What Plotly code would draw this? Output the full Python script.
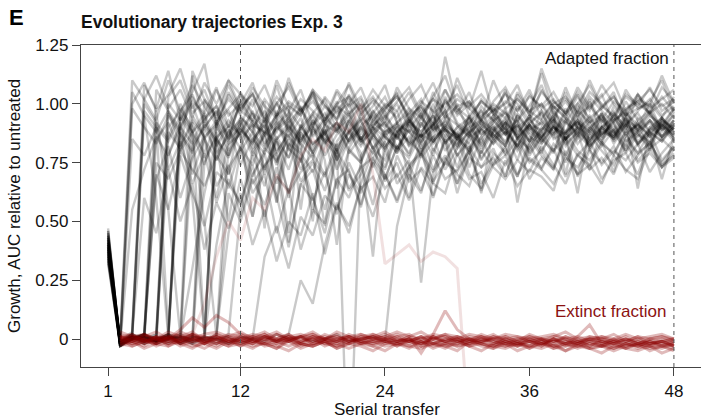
import plotly.graph_objects as go

# ---------------- data ----------------
transfers = list(range(1, 49))
x_ticks = [1, 12, 24, 36, 48]
y_ticks = [0, 0.25, 0.5, 0.75, 1.0, 1.25]
y_ticktext = ["0", "0.25", "0.50", "0.75", "1.00", "1.25"]

# adapted trajectories: values at transfers 1..48
adapted_lines = [
    [0.42, -0.02, 1.05, 0.95, 0.88, 0.97, 0.82, 0.93, 0.86, 0.60, 0.84, 0.91,
     1.02, 0.86, 0.92, 0.80, 0.89, 0.95, 0.83, 0.90, 0.97, 0.85, 0.92, 0.88,
     0.79, 0.93, 0.86, 1.00, 0.88, 0.82, 0.94, 0.87, 0.91, 0.83, 0.96, 0.89,
     0.85, 0.93, 0.88, 0.97, 0.84, 0.90, 0.95, 0.86, 0.92, 0.81, 0.94, 0.88],
    [0.38, 0.00, 1.10, 1.02, 0.93, 1.10, 0.97, 1.04, 0.92, 1.06, 0.95, 1.00,
     1.09, 0.94, 1.03, 0.97, 0.90, 1.05, 0.99, 0.93, 1.04, 0.96, 1.01, 0.92,
     1.07, 0.98, 0.94, 1.03, 1.12, 0.97, 0.91, 1.02, 0.96, 1.05, 0.93, 0.99,
     1.08, 0.95, 1.01, 0.94, 1.03, 0.97, 0.92, 1.06, 0.98, 1.01, 1.10, 0.96],
    [0.35, -0.03, 0.02, 0.97, 0.90, 0.84, 0.95, 0.88, 0.79, 0.92, 0.85, 0.90,
     0.83, 0.94, 0.78, 0.45, 0.91, 0.82, 0.89, 0.76, 0.88, 0.93, 0.81, 0.87,
     0.90, 0.84, 0.95, 0.80, 0.89, 0.86, 0.92, 0.79, 0.88, 0.94, 0.85, 0.81,
     0.90, 0.87, 0.93, 0.83, 0.89, 0.96, 0.84, 0.91, 0.87, 0.82, 0.93, 0.89],
    [0.45, -0.02, 0.01, 0.95, 0.60, 0.01, 0.90, 1.00, 0.85, 0.93, 0.80, 0.88,
     0.97, 0.83, 0.90, 0.86, 0.94, 0.79, 0.88, 0.92, 0.84, 0.96, 0.87, 0.81,
     0.91, 0.88, 0.83, 0.95, 0.89, 0.85, 0.92, 0.97, 0.86, 0.90, 0.82, 0.93,
     0.88, 0.99, 0.85, 0.90, 0.87, 0.94, 0.83, 0.91, 0.96, 0.88, 0.84, 0.92],
    [0.40, -0.01, 0.00, -0.02, 0.92, 0.85, 1.00, 0.88, 0.96, 0.82, 0.91, 0.87,
     0.52, 0.80, 0.89, 0.93, 0.85, 0.90, 0.78, 0.87, 0.92, 0.84, 0.88, 0.95,
     0.81, 0.89, 0.86, 0.91, 0.97, 0.83, 0.88, 0.92, 0.85, 0.79, 0.90, 0.94,
     0.86, 0.91, 0.83, 0.88, 0.95, 0.87, 0.92, 0.80, 0.89, 0.93, 0.86, 0.90],
    [0.33, -0.03, 0.01, 0.00, 0.75, 0.68, 0.80, 0.72, 0.65, 0.78, 0.70, 0.82,
     0.66, 0.74, 0.79, 0.62, 0.71, 0.76, 0.69, 0.81, 0.64, 0.73, 0.77, 0.70,
     0.58, 0.72, 0.79, 0.67, 0.75, 0.71, 0.80, 0.63, 0.74, 0.78, 0.69, 0.83,
     0.72, 0.66, 0.77, 0.73, 0.81, 0.68, 0.76, 0.79, 0.70, 0.84, 0.74, 0.78],
    [0.44, -0.02, 0.02, -0.01, 0.01, 1.00, 0.93, 1.05, 1.17, 0.90, 1.04, 0.95,
     0.88, 1.01, 0.58, 0.97, 1.06, 0.91, 0.99, 0.94, 1.02, 0.87, 0.96, 1.03,
     0.92, 0.98, 0.90, 1.05, 0.94, 0.99, 1.01, 0.93, 0.97, 0.89, 1.04, 0.95,
     1.13, 0.96, 0.92, 1.00, 0.94, 0.98, 1.05, 0.91, 0.97, 1.02, 0.95, 0.99],
    [0.36, -0.01, 0.00, 0.02, -0.02, 0.88, 0.81, 0.92, 0.77, 0.86, 0.90, 0.74,
     0.85, 0.91, 0.79, 0.88, 0.83, 0.92, 0.76, 0.40, 0.81, 0.90, 0.85, 0.73,
     0.88, 0.92, 0.80, 0.86, 0.89, 0.78, 0.84, 0.91, 0.87, 0.82, 0.93, 0.79,
     0.86, 0.90, 0.84, 0.95, 0.81, 0.88, 0.86, 0.92, 0.83, 0.89, 0.94, 0.85],
    [0.41, -0.03, 0.01, 0.00, 0.01, -0.01, 0.98, 0.90, 0.02, 0.85, 0.93, 0.87,
     0.96, 0.82, 0.90, 0.94, 0.86, 0.79, 0.91, 0.88, 0.95, 0.83, 0.89, 0.92,
     0.85, 0.97, 0.81, 0.88, 0.93, 0.86, 0.90, 0.84, 0.95, 0.89, 0.82, 0.91,
     0.97, 0.85, 0.88, 0.93, 0.80, 0.90, 0.86, 0.94, 0.89, 0.83, 0.91, 0.87],
    [0.39, -0.02, 0.00, 0.01, -0.01, 0.02, 0.80, 1.12, 0.90, 0.97, 0.85, 1.01,
     0.93, 0.88, 1.08, 0.91, 0.84, 0.96, 1.02, 0.89, 0.93, 0.99, 0.86, 0.94,
     1.00, 0.90, 0.96, 0.85, 1.03, 0.92, 0.88, 0.97, 0.93, 1.06, 0.87, 0.95,
     0.91, 0.99, 0.94, 0.86, 1.01, 0.92, 0.97, 0.89, 1.04, 0.95, 0.90, 0.98],
    [0.43, -0.01, 0.02, -0.02, 0.00, 0.01, -0.01, 0.95, 0.86, 0.91, 0.78, 0.89,
     0.84, 0.93, 0.80, 0.87, 0.75, 0.90, 0.85, 0.82, 0.88, 0.79, 0.35, 0.86,
     0.81, 0.89, 0.77, 0.84, 0.91, 0.87, 0.80, 0.93, 0.85, 0.88, 0.82, 0.90,
     0.86, 0.79, 0.92, 0.88, 0.84, 0.91, 0.87, 0.95, 0.82, 0.90, 0.86, 0.93],
    [0.34, -0.02, -0.01, 0.01, 0.00, -0.02, 0.01, 0.00, 0.90, 0.97, 0.84, 1.03,
     0.92, 0.87, 0.95, 0.99, 0.55, 0.91, 0.96, 0.88, 1.00, 0.85, 0.93, 0.90,
     0.97, 0.82, 0.94, 0.89, 1.02, 0.91, 0.86, 0.95, 0.99, 0.88, 0.93, 0.84,
     0.97, 0.92, 1.05, 0.89, 0.94, 0.87, 0.99, 0.93, 0.90, 1.00, 0.88, 0.96],
    [0.46, -0.03, 0.00, 0.02, -0.01, 0.00, 0.01, -0.02, 0.01, 0.88, 0.70, 0.93,
     0.80, 0.86, 0.74, 0.91, 0.83, 0.77, 0.89, 0.72, 0.85, 0.90, 0.81, 0.76,
     0.88, 0.84, 0.79, 0.92, 0.86, 0.73, 0.87, 0.83, 0.90, 0.78, 0.85, 0.91,
     0.80, 0.88, 0.75, 0.86, 0.92, 0.82, 0.89, 0.79, 0.87, 0.84, 0.91, 0.85],
    [0.37, -0.01, 0.03, 1.08, 0.98, 1.14, 0.93, 1.01, 0.96, 1.07, 0.90, 0.99,
     1.04, 0.94, 0.88, 1.00, 0.95, 1.06, 0.91, 0.97, 1.03, 0.93, 0.99, 1.08,
     0.92, 0.96, 1.02, 0.89, 1.20, 0.98, 0.94, 1.01, 0.96, 0.91, 1.05, 0.97,
     1.00, 0.93, 1.07, 0.95, 0.99, 1.04, 0.92, 0.98, 1.01, 0.96, 1.03, 0.97],
    [0.32, -0.02, 0.01, 0.02, 0.70, 0.55, 0.78, 0.62, 0.48, 0.71, 0.66, 0.58,
     0.74, 0.52, 0.69, 0.63, 0.77, 0.60, 0.45, 0.68, 0.72, 0.57, 0.75, 0.64,
     0.70, 0.59, 0.73, 0.66, 0.62, 0.79, 0.68, 0.71, 0.60, 0.76, 0.65, 0.72,
     0.69, 0.63, 0.80, 0.70, 0.74, 0.66, 0.78, 0.72, 0.68, 0.81, 0.73, 0.77],
    [0.40, -0.02, 0.00, 0.01, -0.01, 0.96, 0.88, 0.60, 0.02, 0.92, 0.97, 0.85,
     0.91, 0.88, 0.95, 0.82, 0.90, 0.96, 0.87, 0.92, 0.84, 0.89, 0.97, 0.91,
     0.86, 0.93, 0.88, 0.95, 0.83, 0.90, 0.94, 0.87, 0.92, 0.98, 0.85, 0.91,
     0.89, 0.94, 0.87, 0.99, 0.90, 0.86, 0.93, 0.96, 0.88, 0.92, 0.85, 0.90],
    [0.38, -0.01, 0.01, -0.02, 0.00, 0.02, -0.01, 0.01, 0.00, -0.02, 0.02, 0.55,
     0.78, 0.65, 0.84, 0.72, 0.88, 0.80, 0.91, 0.76, 0.85, 0.93, 0.81, 0.89,
     0.86, 0.79, 0.92, 0.84, 0.90, 0.87, 0.95, 0.82, 0.89, 0.93, 0.86, 0.91,
     0.84, 0.97, 0.88, 0.92, 0.85, 0.90, 0.94, 0.87, 0.91, 0.96, 0.89, 0.93],
    [0.42, -0.03, 0.00, 0.01, -0.01, 0.00, 0.02, -0.01, 0.01, 0.00, -0.02, 0.01,
     0.00, 0.35, 0.48, 0.30, 0.52, 0.44, 0.61, 0.55, 0.70, 0.62, 0.76, 0.68,
     0.82, 0.74, 0.79, 0.86, 0.72, 0.81, 0.88, 0.77, 0.84, 0.90, 0.80, 0.86,
     0.83, 0.91, 0.78, 0.87, 0.93, 0.85, 0.89, 0.82, 0.94, 0.88, 0.84, 0.90],
    [0.35, -0.02, 0.01, 0.00, -0.01, 0.01, 0.00, 0.02, -0.01, 0.00, 0.01, -0.02,
     0.00, 0.01, -0.01, 0.02, 0.25, 0.15, 0.40, 0.58, 0.45, 0.66, 0.80, 0.72,
     0.87, 0.78, 0.92, 0.83, 0.89, 0.85, 0.94, 0.81, 0.88, 0.92, 0.86, 0.95,
     0.83, 0.90, 0.87, 0.93, 0.89, 0.84, 0.96, 0.88, 0.91, 0.86, 0.93, 0.90],
    [0.41, -0.01, 0.00, 0.02, 0.85, 0.92, 0.80, 0.88, 0.74, 0.90, 0.83, 0.87,
     0.69, 0.81, 0.76, 0.85, 0.72, 0.79, 0.70, 0.83, -0.70, 0.78, 0.86, 0.80,
     0.88, 0.94, 0.86, 0.91, 0.97, 0.85, 0.90, 0.93, 0.87, 0.82, 0.95, 0.89,
     0.92, 0.86, 0.98, 0.90, 0.85, 0.93, 0.88, 0.96, 0.91, 0.87, 0.94, 0.89],
    [0.39, -0.02, 0.01, 0.00, -0.01, 0.02, 0.00, -0.01, 0.01, 0.00, -0.02, 0.01,
     0.00, -0.01, 0.02, 0.00, 0.01, -0.01, 0.00, 0.02, -0.01, 0.00, 0.01, -0.01,
     0.48, 0.70, 0.62, 0.81, 0.74, 0.86, 0.79, 0.90, 0.83, 0.88, 0.76, 0.91,
     0.85, 0.80, 0.93, 0.87, 0.82, 0.90, 0.86, 0.94, 0.84, 0.89, 0.92, 0.87],
    [0.44, -0.01, 0.00, 0.01, -0.02, 0.00, 0.02, 1.14, 1.02, 0.94, 1.08, 0.97,
     1.05, 0.92, 1.10, 0.99, 0.95, 1.06, 1.00, 0.93, 1.09, 0.98, 1.03, 0.95,
     1.01, 1.07, 0.96, 1.02, 0.94, 1.11, 0.99, 1.04, 0.97, 1.00, 1.08, 0.95,
     1.15, 1.01, 0.96, 1.05, 0.98, 1.03, 1.09, 0.97, 1.02, 0.99, 1.12, 1.00],
    [0.36, -0.02, 0.85, 0.78, 0.90, 0.72, 0.84, 0.66, 0.79, 0.58, 0.73, 0.81,
     0.62, 0.70, 0.45, 0.64, 0.38, 0.55, 0.49, 0.68, 0.60, 0.74, 0.57, 0.80,
     0.69, 0.76, 0.24, 0.71, 0.78, 0.66, 0.82, 0.73, 0.77, 0.69, 0.84, 0.75,
     0.80, 0.72, 0.86, 0.78, 0.74, 0.83, 0.79, 0.88, 0.76, 0.81, 0.85, 0.80],
    [0.40, -0.03, 0.01, -0.01, 0.00, 0.02, -0.02, 0.01, 0.00, 0.93, 0.87, 1.00,
     0.91, 0.47, 0.96, 0.89, 0.99, 0.86, 0.93, 1.01, 0.88, 0.94, 0.90, 0.97,
     0.85, 0.92, 0.98, 0.89, 0.95, 0.91, 0.87, 0.99, 0.93, 0.96, 0.88, 0.94,
     1.00, 0.90, 0.85, 0.97, 0.92, 0.95, 0.89, 1.01, 0.93, 0.97, 0.90, 0.95],
    [0.45, -0.02, 0.00, 0.01, 0.97, 0.55, 0.01, 0.82, 0.90, 0.79, 0.86, 0.92,
     0.81, 0.88, 0.84, 0.77, 0.90, 0.83, 0.87, 0.80, 0.93, 0.85, 0.79, 0.88,
     0.92, 0.82, 0.87, 0.84, 0.91, 0.78, 0.86, 0.89, 0.83, 0.92, 0.87, 0.80,
     0.88, 0.93, 0.85, 0.90, 0.82, 0.87, 0.91, 0.84, 0.88, 0.93, 0.86, 0.91],
    [0.33, -0.01, 0.00, 0.02, -0.01, 0.00, 0.01, -0.02, 0.00, 0.01, 0.62, 0.50,
     0.68, 0.57, 0.73, 0.41, 0.66, 0.59, 0.71, 0.53, 0.75, 0.64, 0.69, 0.58,
     0.78, 0.67, 0.72, 0.61, 0.77, 0.70, 0.65, 0.80, 0.73, 0.68, 0.76, 0.71,
     0.82, 0.74, 0.66, 0.79, 0.72, 0.77, 0.70, 0.83, 0.75, 0.79, 0.73, 0.81],
    [0.38, -0.02, 0.01, -0.01, 0.02, 1.03, 1.10, 0.96, 1.01, 0.93, 0.98, 1.04,
     0.95, 0.90, 1.00, 0.94, 1.02, 0.97, 0.92, 1.05, 0.96, 1.00, 0.93, 0.98,
     1.03, 0.95, 0.99, 0.91, 1.06, 0.97, 1.01, 0.94, 1.00, 0.96, 0.92, 1.04,
     0.98, 1.02, 0.95, 1.07, 0.99, 0.93, 1.01, 0.97, 1.04, 0.96, 1.00, 0.94],
    [0.47, -0.03, 0.98, 0.90, 0.83, 0.95, 0.87, 0.79, 0.91, 0.84, 0.50, 0.80,
     0.88, 0.73, 0.85, 0.90, 0.77, 0.55, 0.83, 0.89, 0.81, 0.75, 0.87, 0.92,
     0.80, 0.86, 0.78, 0.91, 0.84, 0.88, 0.73, 0.86, 0.90, 0.82, 0.95, 0.87,
     0.79, 0.91, 0.85, 0.89, 0.83, 0.96, 0.88, 0.80, 0.92, 0.86, 0.90, 0.84],
    [0.37, -0.01, 0.02, 0.00, -0.01, 0.01, 0.00, -0.02, 0.75, 0.86, 0.64, 0.82,
     0.93, 0.70, 0.85, 0.60, 0.88, 0.79, 0.48, 0.84, 0.91, 0.76, 0.87, 0.81,
     0.90, 0.68, 0.85, 0.92, 0.80, 0.87, 0.83, 0.62, 0.89, 0.84, 0.91, 0.78,
     0.86, 0.93, 0.82, 0.88, 0.72, 0.90, 0.85, 0.94, 0.83, 0.88, 0.91, 0.86],
    [0.41, -0.02, 0.02, 1.02, 1.12, 0.98, 1.06, 0.94, 1.09, 1.00, 1.10, 1.04,
     0.99, 1.08, 0.95, 1.01, 0.97, 1.05, 0.93, 1.00, 1.03, 0.97, 1.06, 0.99,
     0.94, 1.02, 1.08, 0.96, 1.00, 1.04, 0.98, 0.93, 1.01, 1.07, 0.97, 1.03,
     0.99, 1.05, 0.96, 1.00, 1.08, 0.98, 1.03, 0.95, 1.01, 1.06, 0.99, 1.02],
    [0.43, -0.02, 0.55, 0.72, 0.86, 0.78, 0.92, 0.70, 0.85, 0.76, 0.89, 0.81,
     0.74, 0.88, 0.66, 0.83, 0.79, 0.71, 0.86, 0.64, 0.80, 0.75, 0.90, 0.68,
     0.82, 0.77, 0.87, 0.72, 0.84, 0.62, 0.79, 0.86, 0.74, 0.81, 0.69, 0.85,
     0.78, 0.73, 0.88, 0.80, 0.76, 0.84, 0.71, 0.87, 0.79, 0.83, 0.75, 0.82],
    [0.39, -0.01, 0.01, 1.00, 0.92, 0.03, 0.96, 1.08, 0.99, 0.91, 1.05, 0.97,
     0.93, 1.02, 0.95, 1.09, 0.98, 0.90, 1.03, 0.96, 1.00, 1.07, 0.94, 0.99,
     1.04, 0.92, 1.01, 0.97, 1.06, 0.95, 1.00, 0.93, 1.10, 0.98, 1.02, 0.96,
     1.05, 0.99, 0.94, 1.03, 0.97, 1.08, 1.00, 0.95, 1.04, 0.98, 1.02, 1.06],
    [0.36, -0.02, 0.00, 0.01, -0.01, 0.00, 0.94, 0.86, 0.50, 0.01, 0.82, 0.90,
     0.78, 0.87, 0.93, 0.81, 0.76, 0.89, 0.84, 0.92, 0.79, 0.86, 0.73, 0.88,
     0.91, 0.83, 0.87, 0.78, 0.94, 0.85, 0.80, 0.89, 0.86, 0.92, 0.81, 0.88,
     0.84, 0.90, 0.87, 0.93, 0.82, 0.89, 0.85, 0.91, 0.88, 0.80, 0.92, 0.86],
    [0.42, -0.03, 0.00, 0.02, 0.68, 0.82, 0.60, 0.77, 0.86, 0.65, 0.74, 0.52,
     0.70, 0.79, 0.58, 0.83, 0.67, 0.75, 0.63, 0.80, 0.71, 0.56, 0.77, 0.84,
     0.66, 0.73, 0.81, 0.60, 0.76, 0.85, 0.70, 0.64, 0.79, 0.74, 0.83, 0.68,
     0.77, 0.72, 0.86, 0.69, 0.80, 0.75, 0.82, 0.71, 0.78, 0.84, 0.73, 0.79],
    [0.38, -0.01, 0.01, -0.01, 0.00, 0.02, 0.00, 0.30, 0.62, 0.85, 0.78, 0.94,
     0.88, 0.81, 0.97, 0.90, 0.84, 0.93, 0.87, 0.99, 0.83, 0.91, 0.95, 0.86,
     0.92, 0.88, 0.96, 0.84, 0.90, 1.00, 0.87, 0.93, 0.89, 0.97, 0.85, 0.92,
     0.96, 0.88, 0.94, 0.90, 1.02, 0.86, 0.93, 0.97, 0.89, 0.95, 0.91, 0.98],
    [0.46, -0.02, 1.00, 1.09, 0.97, 1.04, 1.15, 0.98, 1.06, 0.93, 1.02, 0.96,
     1.07, 0.99, 0.94, 1.11, 0.97, 1.03, 0.91, 1.00, 1.08, 0.95, 1.02, 0.97,
     1.05, 0.93, 1.00, 1.09, 0.96, 1.02, 0.98, 1.14, 0.95, 1.01, 0.97, 1.06,
     0.94, 1.00, 1.03, 0.97, 1.10, 0.99, 0.95, 1.04, 1.00, 0.96, 1.07, 1.01],
    [0.40, -0.02, 0.00, 0.01, -0.02, 0.00, 0.01, 0.00, -0.01, 0.02, 0.45, 0.68,
     0.52, 0.74, 0.61, 0.39, 0.66, 0.72, 0.55, 0.78, 0.63, 0.70, 0.82, 0.67,
     0.75, 0.60, 0.79, 0.71, 0.85, 0.66, 0.77, 0.73, 0.81, 0.69, 0.86, 0.76,
     0.72, 0.83, 0.78, 0.70, 0.87, 0.80, 0.74, 0.85, 0.79, 0.88, 0.76, 0.82],
    [0.35, -0.03, 0.01, 0.00, 0.02, 0.78, 0.90, 0.83, 0.95, 0.76, 0.88, 0.93,
     0.85, 0.79, 0.91, 0.96, 0.82, 0.50, 0.93, 0.80, 0.89, 0.84, 0.97, 0.86,
     0.81, 0.92, 0.88, 0.95, 0.83, 0.90, 0.86, 0.79, 0.93, 0.87, 0.91, 0.84,
     0.89, 0.95, 0.85, 0.92, 0.88, 0.83, 0.96, 0.90, 0.86, 0.93, 0.89, 0.91],
    [0.44, -0.01, 0.00, 0.02, -0.01, 0.01, -0.02, 0.00, 1.02, 0.95, 1.10, 0.98,
     1.04, 0.93, 1.00, 1.07, 0.96, 1.01, 0.94, 1.06, 0.99, 1.03, 0.92, 1.00,
     0.97, 1.05, 0.94, 1.02, 0.98, 1.08, 0.95, 1.01, 0.97, 1.04, 1.00, 0.93,
     1.06, 0.98, 1.02, 0.96, 1.05, 1.00, 0.94, 1.03, 0.99, 1.07, 0.97, 1.01],
    [0.37, -0.02, 0.02, 0.60, 0.45, 0.72, 0.50, 0.66, 0.38, 0.58, 0.47, 0.62,
     0.40, 0.55, 0.33, 0.50, 0.44, 0.62, 0.36, 0.57, 0.48, 0.65, 0.52, 0.70,
     0.59, 0.74, 0.63, 0.78, 0.68, 0.72, 0.80, 0.66, 0.75, 0.82, 0.70, 0.77,
     0.73, 0.81, 0.69, 0.78, 0.84, 0.74, 0.80, 0.76, 0.83, 0.71, 0.79, 0.85],
    [0.41, -0.01, 0.00, 0.01, 1.06, 0.97, 0.89, 1.03, 0.94, 0.99, 0.90, 1.05,
     0.96, 0.92, 1.01, 0.88, 0.97, 1.04, 0.93, 0.99, 0.95, 1.02, 0.90, 0.98,
     1.03, 0.94, 0.99, 0.92, 1.01, 0.96, 1.05, 0.91, 0.98, 0.94, 1.02, 0.97,
     0.93, 1.01, 0.96, 1.04, 0.92, 0.99, 1.03, 0.95, 0.98, 1.00, 0.94, 1.03],
    [0.39, -0.02, 0.01, 0.00, -0.01, 0.01, 0.88, 0.80, 0.92, 0.85, 0.77, 0.89,
     0.83, 0.91, 0.75, 0.86, 0.80, 0.93, 0.84, 0.78, 0.88, 0.82, 0.90, 0.86,
     0.79, 0.91, 0.84, 0.66, 0.87, 0.81, 0.89, 0.76, 0.85, 0.92, 0.58, 0.83,
     0.88, 0.80, 0.86, 0.62, 0.90, 0.84, 0.78, 0.89, 0.83, 0.87, 0.68, 0.86],
    [0.43, -0.03, 0.00, 0.02, 0.00, 0.90, 0.97, 0.88, 0.93, 0.99, 0.86, 0.94,
     0.90, 0.97, 0.85, 0.92, 0.98, 0.87, 0.94, 0.89, 0.96, 0.84, 0.91, 0.95,
     0.88, 0.93, 0.86, 0.97, 0.90, 0.82, 0.95, 0.89, 0.93, 0.87, 0.99, 0.91,
     0.86, 0.95, 0.70, 0.92, 0.88, 0.96, 0.85, 0.93, 0.64, 0.90, 0.94, 0.88],
    [0.34, -0.01, 0.01, -0.01, 0.00, 0.01, -0.02, 0.01, 0.00, 0.40, 0.68, 0.57,
     0.80, 0.72, 0.86, 0.77, 0.91, 0.83, 0.88, 0.79, 0.93, 0.85, 0.90, 0.82,
     0.87, 0.94, 0.84, 0.89, 0.92, 0.86, 0.81, 0.90, 0.95, 0.87, 0.91, 0.84,
     0.93, 0.88, 0.96, 0.85, 0.90, 0.94, 0.87, 0.92, 0.89, 0.97, 0.86, 0.93],
]

# extinct trajectories: values from transfer 2 onwards
extinct_start = 2
extinct_lines = [
    [-0.01, 0.01, 0.00, -0.02, 0.01, 0.02, -0.01, 0.00, 0.01, -0.02,
     0.00, 0.01, -0.01, 0.02, 0.00, -0.01, 0.01, -0.02, 0.00, 0.01,
     -0.01, 0.00, 0.02, -0.01, 0.00, -0.02, 0.01, -0.01, 0.00, -0.02,
     0.01, -0.01, -0.02, 0.00, -0.01, -0.03, 0.00, -0.02, -0.01, -0.03,
     0.00, -0.02, -0.01, -0.03, -0.01, -0.02, -0.03],
    [0.02, -0.01, 0.01, 0.03, 0.00, -0.01, 0.02, 0.01, -0.02, 0.01,
     0.03, 0.00, 0.02, -0.01, 0.01, 0.02, 0.00, 0.01, -0.01, 0.02,
     0.00, 0.01, 0.03, 0.00, -0.01, 0.01, 0.00, 0.02, -0.01, 0.00,
     0.01, -0.02, 0.00, 0.01, -0.01, 0.00, -0.02, 0.01, -0.01, 0.00,
     -0.02, 0.00, -0.01, 0.01, -0.02, -0.01, 0.00],
    [-0.03, -0.01, -0.04, -0.02, -0.03, 0.00, -0.02, -0.04, -0.01, -0.03,
     -0.02, -0.04, -0.01, -0.03, -0.05, -0.02, -0.03, -0.01, -0.04, -0.02,
     -0.03, -0.05, -0.02, -0.01, -0.03, -0.04, -0.02, -0.03, -0.05, -0.01,
     -0.03, -0.04, -0.02, -0.05, -0.03, -0.04, -0.02, -0.05, -0.03, -0.04,
     -0.06, -0.03, -0.04, -0.05, -0.03, -0.06, -0.04],
    [0.00, 0.02, -0.01, 0.01, 0.00, 0.04, 0.09, 0.05, 0.10, 0.07,
     0.02, -0.01, 0.01, 0.00, 0.02, -0.02, 0.01, 0.00, -0.01, 0.01,
     -0.02, 0.00, 0.01, -0.01, 0.00, -0.03, 0.01, -0.02, -0.01, 0.00,
     -0.02, 0.01, -0.01, -0.03, 0.00, -0.02, -0.01, 0.00, -0.03, -0.01,
     -0.02, 0.00, -0.03, -0.01, -0.02, 0.00, -0.02],
    [0.01, -0.02, 0.00, -0.01, 0.02, -0.02, 0.00, 0.01, -0.01, -0.03,
     0.00, -0.02, 0.01, -0.01, 0.00, -0.03, -0.01, 0.00, -0.02, 0.01,
     -0.01, -0.02, 0.00, -0.01, 0.01, -0.06, 0.02, 0.12, 0.04, 0.00,
     -0.01, -0.03, 0.00, -0.02, -0.01, 0.00, -0.03, -0.01, -0.02, 0.00,
     -0.01, -0.03, -0.02, 0.00, -0.02, -0.01, -0.03],
    [-0.02, 0.00, -0.01, 0.01, -0.03, -0.01, 0.00, -0.02, 0.01, -0.01,
     -0.03, 0.00, -0.02, -0.01, 0.01, -0.02, 0.00, -0.03, -0.01, 0.00,
     -0.02, -0.01, 0.00, -0.03, -0.01, -0.02, 0.00, -0.01, -0.03, -0.02,
     0.00, -0.01, -0.03, -0.02, -0.01, -0.03, 0.00, -0.02, 0.01, 0.06,
     -0.02, -0.04, -0.02, -0.03, -0.01, -0.03, -0.04],
    [-0.01, 0.01, 0.00, -0.02, 0.01, 0.00, 0.02, 0.15, 0.35, 0.50,
     0.42, 0.60, 0.55, 0.70, 0.62, 0.78, 0.85, 0.80, 0.92, 0.88,
     1.00, 0.70, 0.32, 0.36, 0.40, 0.33, 0.37, 0.35, 0.30, -0.40],
    [0.01, 0.00, 0.02, -0.01, 0.00, 0.01, 0.03, -0.01, 0.00, 0.02,
     0.01, -0.01, 0.00, 0.02, -0.01, 0.01, 0.03, 0.00, 0.01, -0.01,
     0.02, 0.00, -0.01, 0.01, 0.02, -0.01, 0.00, 0.01, -0.02, 0.01,
     0.00, 0.02, -0.01, 0.00, 0.01, -0.01, 0.01, 0.00, -0.02, 0.01,
     0.00, -0.01, 0.01, -0.02, 0.00, 0.01, -0.01],
    [-0.02, -0.03, -0.01, -0.02, 0.00, -0.03, -0.01, -0.02, -0.04, -0.01,
     -0.02, 0.00, -0.03, -0.02, -0.01, -0.04, -0.02, -0.01, -0.03, 0.00,
     -0.02, -0.03, -0.01, -0.02, -0.04, -0.01, -0.03, -0.02, 0.00, -0.03,
     -0.02, -0.04, -0.01, -0.03, -0.02, -0.01, -0.04, -0.02, -0.03, -0.01,
     -0.03, -0.02, -0.04, -0.02, -0.03, -0.01, -0.03],
    [0.00, -0.01, 0.01, 0.00, -0.02, 0.01, -0.01, 0.00, 0.02, -0.01,
     0.00, -0.02, 0.01, 0.00, -0.01, 0.01, -0.02, 0.00, 0.01, -0.01,
     0.00, 0.01, -0.02, 0.00, -0.01, 0.01, -0.02, -0.01, 0.00, -0.02,
     -0.01, 0.00, -0.02, -0.01, -0.03, 0.00, -0.01, -0.02, 0.00, -0.03,
     -0.01, -0.02, 0.00, -0.01, -0.03, -0.02, -0.01],
    [0.01, 0.02, -0.01, 0.00, 0.01, -0.01, 0.02, 0.00, 0.01, -0.01,
     0.02, 0.01, 0.00, -0.01, 0.01, 0.00, 0.02, -0.01, 0.00, 0.01,
     -0.01, 0.02, 0.00, 0.01, -0.02, 0.00, 0.01, -0.01, 0.01, 0.00,
     -0.01, 0.01, 0.00, -0.02, 0.01, 0.00, -0.01, 0.01, -0.01, 0.00,
     0.01, -0.01, 0.00, -0.02, 0.00, -0.01, 0.00],
    [-0.02, -0.01, -0.03, 0.00, -0.02, -0.01, -0.03, -0.02, 0.00, -0.02,
     -0.01, -0.03, -0.02, -0.04, -0.01, -0.02, -0.03, -0.01, -0.02, -0.04,
     -0.02, -0.01, -0.03, -0.02, -0.03, -0.01, -0.04, -0.02, -0.03, -0.01,
     -0.02, -0.03, -0.04, -0.02, -0.03, -0.02, -0.04, -0.03, -0.02, -0.04,
     -0.03, -0.04, -0.02, -0.03, -0.04, -0.03, -0.02],
    [0.00, 0.01, -0.02, 0.01, -0.01, 0.00, 0.02, -0.01, 0.00, 0.01,
     -0.01, 0.00, 0.02, -0.02, 0.00, 0.01, -0.01, 0.02, 0.00, -0.02,
     0.01, -0.01, 0.00, 0.02, -0.01, 0.01, -0.02, 0.00, 0.01, -0.01,
     0.00, -0.02, 0.01, -0.01, 0.00, -0.02, 0.00, -0.01, -0.02, 0.00,
     -0.01, -0.02, 0.00, -0.02, -0.01, -0.03, -0.01],
    [-0.01, -0.02, 0.00, -0.03, -0.01, -0.02, 0.00, -0.01, -0.03, 0.00,
     -0.01, -0.02, 0.00, -0.01, -0.03, -0.01, 0.00, -0.02, -0.03, -0.01,
     0.00, -0.02, -0.01, -0.03, 0.00, -0.02, -0.01, -0.03, -0.02, 0.00,
     -0.02, -0.03, -0.01, -0.02, -0.04, -0.01, -0.03, -0.02, -0.04, -0.02,
     -0.03, -0.01, -0.04, -0.02, -0.03, -0.04, -0.02],
    [0.03, 0.01, 0.02, 0.00, 0.03, 0.01, 0.00, 0.02, 0.03, 0.01,
     0.00, 0.02, 0.01, 0.03, 0.00, 0.01, 0.02, 0.00, 0.03, 0.01,
     0.02, 0.00, 0.01, 0.03, 0.01, 0.00, 0.02, 0.01, 0.00, 0.02,
     0.01, 0.00, 0.02, 0.01, 0.00, 0.01, 0.02, 0.00, 0.01, -0.01,
     0.01, 0.00, 0.02, 0.00, 0.01, 0.02, 0.00],
    [-0.01, 0.00, -0.02, 0.01, 0.00, -0.01, 0.01, -0.02, 0.00, -0.01,
     0.01, -0.01, -0.02, 0.00, -0.01, 0.01, -0.02, 0.00, -0.01, -0.02,
     0.00, 0.01, -0.01, -0.02, 0.00, -0.01, -0.02, 0.00, -0.01, -0.03,
     -0.01, 0.00, -0.02, -0.03, -0.01, -0.02, 0.00, -0.03, -0.01, -0.02,
     -0.03, -0.01, -0.02, -0.04, -0.02, -0.01, -0.03],
    [0.00, -0.03, -0.01, -0.02, 0.01, -0.02, -0.04, -0.01, -0.02, 0.00,
     -0.03, -0.01, -0.02, -0.04, 0.00, -0.02, -0.03, -0.01, -0.04, -0.02,
     -0.01, -0.03, -0.05, -0.02, -0.01, -0.03, -0.02, -0.04, -0.01, -0.03,
     -0.05, -0.02, -0.03, -0.01, -0.04, -0.02, -0.03, -0.05, -0.02, -0.04,
     -0.03, -0.05, -0.03, -0.02, -0.05, -0.03, -0.05],
    [0.01, -0.01, 0.02, 0.00, -0.01, 0.03, 0.01, -0.02, 0.02, 0.00,
     -0.01, 0.01, 0.03, 0.00, 0.02, -0.01, 0.01, 0.00, 0.02, -0.01,
     0.01, 0.02, 0.00, -0.01, 0.01, 0.03, 0.00, 0.02, 0.01, -0.01,
     0.02, 0.00, 0.01, -0.01, 0.02, 0.00, 0.01, 0.03, 0.00, 0.01,
     0.00, 0.02, -0.01, 0.01, 0.00, 0.01, 0.00],
]

# ---------------- figure ----------------
W, H = 701, 419
ML, MR, MT, MB = 81, 0, 45, 52
PW, PH = W - ML - MR, H - MT - MB


def px_x(px):
    return (px - ML) / PW


def px_y(py):
    return (H - MB - py) / PH


FONT = "Liberation Sans, Arial, Helvetica, sans-serif"
GREY = "rgba(0,0,0,0.21)"
RED = "rgba(139,0,0,0.27)"
RED_FAINT = "rgba(139,0,0,0.12)"
RED_TEXT = "#8b1111"

fig = go.Figure()
for vals in adapted_lines:
    fig.add_trace(go.Scatter(
        x=transfers[:len(vals)], y=vals, mode="lines",
        line=dict(color=GREY, width=2.4), hoverinfo="skip", showlegend=False))
for vals in extinct_lines:
    xs = transfers[extinct_start - 1: extinct_start - 1 + len(vals)]
    col = RED_FAINT if max(vals) > 0.5 else RED
    fig.add_trace(go.Scatter(
        x=xs, y=vals, mode="lines",
        line=dict(color=col, width=3), hoverinfo="skip", showlegend=False))

for xv in (12, 48):
    fig.add_shape(type="line", xref="x", yref="paper", x0=xv, x1=xv, y0=0, y1=1,
                  line=dict(color="#555555", width=1, dash="4px,4px"), layer="above")

fig.update_layout(
    width=W, height=H,
    margin=dict(l=ML, r=MR, t=MT, b=MB, pad=0),
    plot_bgcolor="white", paper_bgcolor="white",
    font=dict(family=FONT, size=17, color="#111111"),
    xaxis=dict(range=[-1.25, 50.25], tickvals=x_ticks, ticks="outside", ticklen=8,
               tickwidth=1.2, tickcolor="#444444", showline=True, linecolor="#444444",
               linewidth=1.3, mirror=True, showgrid=False, zeroline=False,
               tickfont=dict(size=17, color="#111111")),
    yaxis=dict(range=[-0.119, 1.25], tickvals=y_ticks, ticktext=y_ticktext,
               ticks="outside", ticklen=8, tickwidth=1.2, tickcolor="#444444",
               showline=True, linecolor="#444444", linewidth=1.3, showgrid=False,
               zeroline=False, tickfont=dict(size=17, color="#111111")),
    annotations=[
        dict(text="<b>E</b>", x=px_x(7), y=px_y(17), xref="paper", yref="paper",
             xanchor="left", yanchor="middle", showarrow=False,
             font=dict(size=22, color="#000000")),
        dict(text="<b>Evolutionary trajectories Exp. 3</b>", x=px_x(79), y=px_y(22),
             xref="paper", yref="paper", xanchor="left", yanchor="middle",
             showarrow=False, font=dict(size=17.5, color="#111111")),
        dict(text="Adapted fraction", x=px_x(671), y=px_y(59), xref="paper", yref="paper",
             xanchor="right", yanchor="middle", showarrow=False,
             font=dict(size=17, color="#111111")),
        dict(text="Extinct fraction", x=px_x(669), y=px_y(311), xref="paper", yref="paper",
             xanchor="right", yanchor="middle", showarrow=False,
             font=dict(size=17, color=RED_TEXT)),
        dict(text="Growth, AUC relative to untreated", x=px_x(14), y=0.5,
             xref="paper", yref="paper", xanchor="center", yanchor="middle",
             textangle=-90, showarrow=False, font=dict(size=17, color="#111111")),
        dict(text="Serial transfer", x=px_x(386.5), y=px_y(409), xref="paper",
             yref="paper", xanchor="center", yanchor="middle", showarrow=False,
             font=dict(size=17, color="#111111")),
    ],
)

fig.write_html("out.html")
